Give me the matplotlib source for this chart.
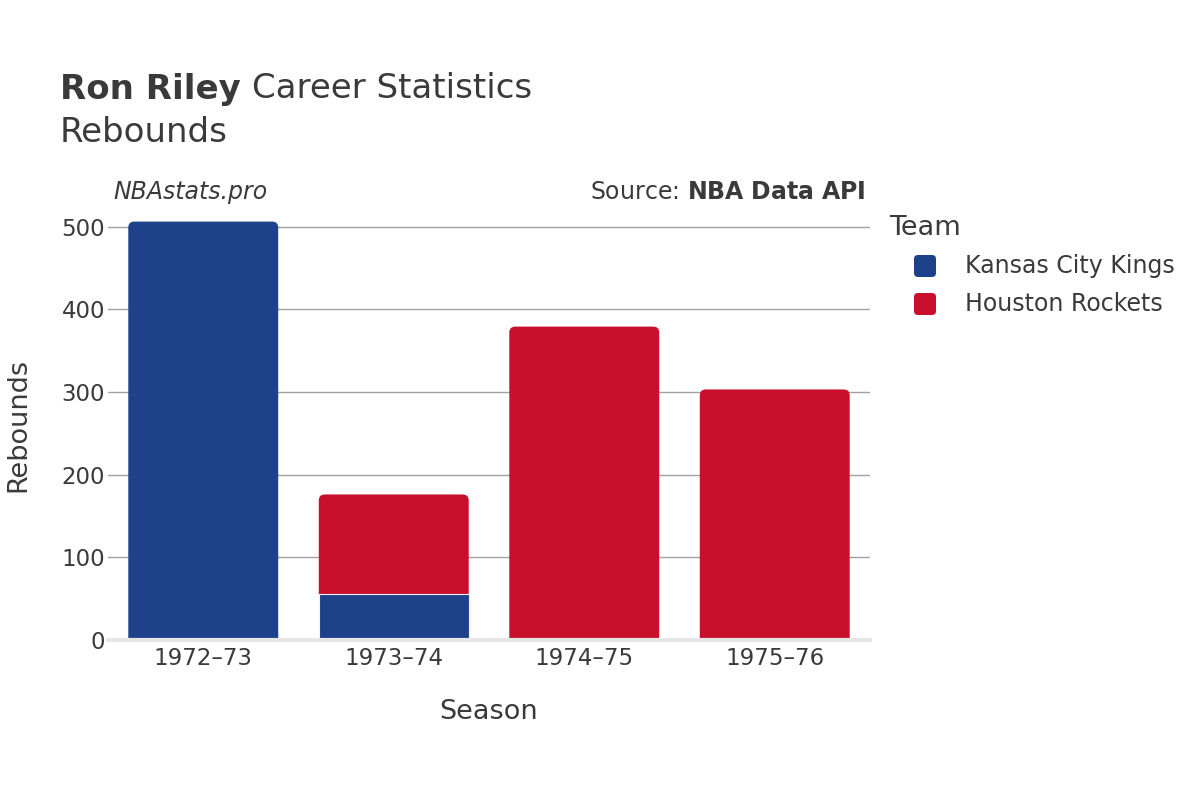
import matplotlib
matplotlib.use("Agg")
import matplotlib.pyplot as plt
from matplotlib.patches import FancyBboxPatch
import numpy as np

seasons = ["1972–73", "1973–74", "1974–75", "1975–76"]
teams = ["Kansas City Kings", "Houston Rockets"]
kc_reb = [506, 56, 0, 0]
hou_reb = [0, 120, 379, 303]
team_colors = ["#1D428A", "#C8102E"]
yticks = [0, 100, 200, 300, 400, 500]

txt = "#3a3a3a"
plt.rcParams['font.family'] = ['DejaVu Sans']

W, H = 1200, 800
fig = plt.figure(figsize=(12, 8), dpi=100)
ax_l, ax_b, ax_w, ax_h = 108, 160, 762, 430
ax = fig.add_axes([ax_l/W, ax_b/H, ax_w/W, ax_h/H])

ymax = 520
x = np.arange(len(seasons))
width = 0.787
series = [kc_reb, hou_reb]
bottom = np.zeros(len(seasons))
containers = []
for vals, col in zip(series, team_colors):
    vals = np.array(vals, dtype=float)
    bc = ax.bar(x, vals, width, bottom=bottom, color=col, edgecolor="#f4f4f4",
                linewidth=0.8, zorder=4)
    for p, v in zip(bc.patches, vals):
        if v <= 0:
            p.set_visible(False)
    containers.append((bc, vals))
    bottom += vals

ax.set_xlim(-0.5, 3.5)
ax.set_ylim(0, ymax)

# rounded top corners on the topmost segment of each stack
px_x = ax_w / 4.0
px_y = ax_h / ymax
r_px = 6
r_x = r_px / px_x
aspect = (r_px / px_y) / r_x
for i in range(len(seasons)):
    top_j = max(j for j, (bc, v) in enumerate(containers) if v[i] > 0)
    bc, v = containers[top_j]
    rect = bc.patches[i]
    rect.set_visible(False)
    x0, y0 = rect.get_x(), rect.get_y()
    w, h = rect.get_width(), rect.get_height()
    ext = r_px / px_y
    fp = FancyBboxPatch((x0, y0 - ext), w, h + ext,
                        boxstyle=f"round,pad=0,rounding_size={r_x}",
                        mutation_aspect=aspect, facecolor=rect.get_facecolor(),
                        edgecolor="none", zorder=3)
    ax.add_patch(fp)

ax.set_yticks(yticks)
ax.set_yticklabels([str(t) for t in yticks])
ax.set_xticks(x)
ax.set_xticklabels(seasons)
ax.tick_params(axis='both', length=0, labelsize=16.5, colors=txt)
ax.tick_params(axis='y', pad=2)
ax.tick_params(axis='x', pad=5)
ax.grid(axis='y', color="#a0a0a0", linewidth=1, zorder=0)
for s in ["top", "right", "left"]:
    ax.spines[s].set_visible(False)
ax.spines["bottom"].set_color("#e6e6e6")
ax.spines["bottom"].set_linewidth(3)
ax.spines["bottom"].set_zorder(5)

ax.set_xlabel("Season", fontsize=19.5, color=txt, labelpad=21)
ax.set_ylabel("Rebounds", fontsize=19.5, color=txt, labelpad=22)

# Titles
fig.canvas.draw()
r = fig.canvas.get_renderer()
t1 = fig.text(60/W, 1 - 89/H, "Ron Riley", fontsize=24.5, fontweight="bold",
              color=txt, va="center", ha="left")
bb = t1.get_window_extent(renderer=r)
fig.text((bb.x1 + 11)/W, 1 - 89/H, "Career Statistics", fontsize=24.5,
         color=txt, va="center", ha="left")
fig.text(60/W, 1 - 133/H, "Rebounds", fontsize=24.5, color=txt,
         va="center", ha="left")

fig.text(113/W, 1 - 192/H, "NBAstats.pro", fontsize=17, style="italic",
         color=txt, va="center", ha="left")
fig.text(866/W, 1 - 192/H, r"Source: $\bf{NBA\ Data\ API}$", fontsize=17,
         color=txt, va="center", ha="right")

# Legend (manual)
fig.text(889/W, 1 - 228/H, "Team", fontsize=19.5, color=txt, va="center", ha="left")
leg_y = [266, 304]
sq = 22
for name, col, yy in zip(teams, team_colors, leg_y):
    p = FancyBboxPatch(((925 - sq/2)/W, (H - yy - sq/2)/H), sq/W, sq/H,
                       boxstyle=f"round,pad=0,rounding_size={4/W}",
                       mutation_aspect=W/H, transform=fig.transFigure,
                       facecolor=col, edgecolor="none")
    fig.patches.append(p)
    fig.text(965/W, 1 - yy/H, name, fontsize=17, color=txt, va="center", ha="left")

fig.savefig("out.png", dpi=100, facecolor="white")
